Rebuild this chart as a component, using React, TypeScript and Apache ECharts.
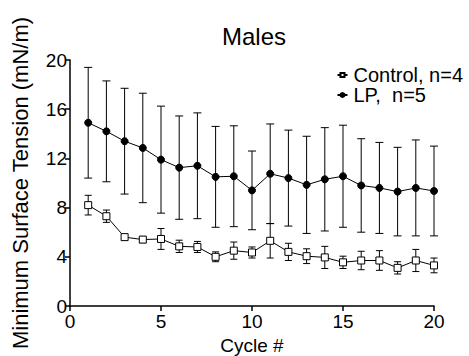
import React, { useEffect, useRef } from "react";
import * as echarts from "echarts";

const cycles = [1, 2, 3, 4, 5, 6, 7, 8, 9, 10, 11, 12, 13, 14, 15, 16, 17, 18, 19, 20];
const controlMean = [8.2, 7.3, 5.6, 5.4, 5.45, 4.85, 4.8, 4.0, 4.5, 4.35, 5.3, 4.4, 4.05, 3.95, 3.55, 3.7, 3.7, 3.1, 3.7, 3.3];
const controlSD = [0.8, 0.5, 0.2, 0.25, 0.85, 0.5, 0.45, 0.4, 0.7, 0.45, 1.4, 0.7, 0.6, 0.9, 0.5, 0.75, 0.8, 0.5, 0.9, 0.6];
const lpMean = [14.9, 14.2, 13.4, 12.85, 11.9, 11.25, 11.4, 10.5, 10.55, 9.4, 10.75, 10.4, 9.85, 10.3, 10.55, 9.8, 9.6, 9.3, 9.6, 9.35];
const lpSD = [4.5, 4.1, 4.3, 4.45, 4.35, 4.2, 4.3, 4.1, 4.1, 3.2, 4.05, 3.9, 3.95, 4.2, 4.15, 3.8, 3.7, 3.6, 3.9, 3.65];

const FONT = "Liberation Sans, Arial, sans-serif";

function errorSeries(mean: number[], sd: number[], capHalf: number) {
  return {
    type: "custom",
    silent: true,
    z: 1,
    data: cycles.map((c, i) => [c, mean[i] - sd[i], mean[i] + sd[i]]),
    renderItem: (params: any, api: any) => {
      const x = api.value(0);
      const lo = api.coord([x, api.value(1)]);
      const hi = api.coord([x, api.value(2)]);
      const st = { stroke: "#000", lineWidth: 1 };
      return {
        type: "group",
        children: [
          { type: "line", shape: { x1: hi[0], y1: hi[1], x2: lo[0], y2: lo[1] }, style: st },
          { type: "line", shape: { x1: hi[0] - capHalf, y1: hi[1], x2: hi[0] + capHalf, y2: hi[1] }, style: st },
          { type: "line", shape: { x1: lo[0] - capHalf, y1: lo[1], x2: lo[0] + capHalf, y2: lo[1] }, style: st },
        ],
      };
    },
  };
}

export default function App() {
  const ref = useRef<HTMLDivElement>(null);
  useEffect(() => {
    const chart = echarts.init(ref.current!, null, { renderer: "svg" });
    chart.setOption({
      animation: false,
      backgroundColor: "#fff",
      textStyle: { fontFamily: FONT, color: "#000" },
      title: {
        text: "Males",
        left: 254,
        textAlign: "center",
        top: 24,
        padding: 0,
        textStyle: { fontFamily: FONT, fontSize: 24, lineHeight: 24, fontWeight: "normal", color: "#000" },
      },
      legend: {
        right: 6,
        top: 65,
        padding: 0,
        orient: "vertical",
        itemWidth: 10,
        itemHeight: 5,
        itemGap: 0,
        textStyle: { fontFamily: FONT, fontSize: 20, lineHeight: 17, color: "#000", padding: [0, 0, 0, 1] },
        data: ["Control, n=4", "LP,  n=5"],
      },
      grid: { left: 70, right: 35, top: 60, bottom: 50, containLabel: false, outerBoundsMode: "none" },
      xAxis: {
        type: "value",
        min: 0,
        max: 20,
        interval: 5,
        name: "Cycle #",
        nameLocation: "middle",
        nameGap: 25,
        nameTextStyle: { fontFamily: FONT, fontSize: 19, color: "#000" },
        axisLine: { lineStyle: { color: "#000", width: 1.5 } },
        axisTick: { lineStyle: { color: "#000", width: 1.5 }, length: 5 },
        axisLabel: { fontFamily: FONT, fontSize: 19, color: "#000", margin: 6 },
        splitLine: { show: false },
      },
      yAxis: {
        type: "value",
        min: 0,
        max: 20,
        interval: 4,
        name: "Minimum Surface Tension (mN/m)",
        nameLocation: "middle",
        nameGap: 39,
        nameTextStyle: { fontFamily: FONT, fontSize: 22, color: "#000" },
        axisLine: { show: true, lineStyle: { color: "#000", width: 1.5 } },
        axisTick: { show: true, lineStyle: { color: "#000", width: 1.5 }, length: 5 },
        axisLabel: { fontFamily: FONT, fontSize: 19, color: "#000", margin: 3 },
        splitLine: { show: false },
      },
      series: [
        errorSeries(lpMean, lpSD, 4),
        errorSeries(controlMean, controlSD, 3.5),
        {
          name: "Control, n=4",
          type: "line",
          z: 3,
          data: cycles.map((c, i) => [c, controlMean[i]]),
          symbol: "rect",
          symbolSize: 7,
          lineStyle: { color: "#000", width: 1 },
          itemStyle: { color: "#fff", borderColor: "#000", borderWidth: 1 },
        },
        {
          name: "LP,  n=5",
          type: "line",
          z: 3,
          data: cycles.map((c, i) => [c, lpMean[i]]),
          symbol: "circle",
          symbolSize: 7,
          lineStyle: { color: "#000", width: 1 },
          itemStyle: { color: "#000", borderColor: "#000", borderWidth: 1 },
        },
      ],
    });
    return () => chart.dispose();
  }, []);
  return <div ref={ref} style={{ width: 469, height: 356, position: "absolute", left: 0, top: 0 }} />;
}
